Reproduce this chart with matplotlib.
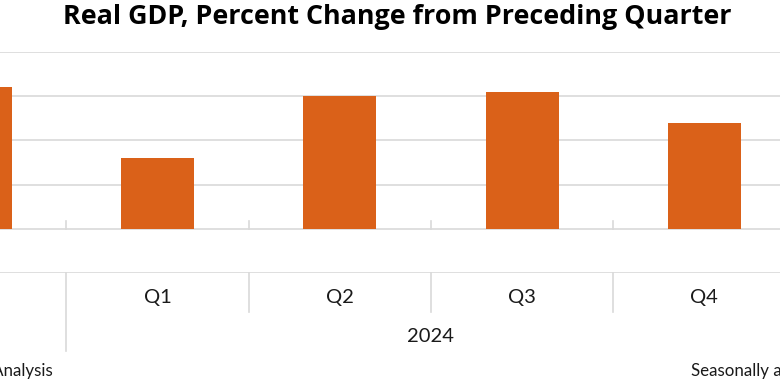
import matplotlib
matplotlib.use("Agg")
import matplotlib.pyplot as plt
import matplotlib.transforms as mtransforms

quarters = ["Q4", "Q1", "Q2", "Q3", "Q4"]
years = ["2023", "2024"]
year_of = [0, 1, 1, 1, 1]
gdp = [3.2, 1.6, 3.0, 3.1, 2.4]

W, H = 780, 387
fig = plt.figure(figsize=(W / 100, H / 100), dpi=100)
plt.rcParams['font.family'] = ['Lato', 'DejaVu Sans']

top_px, bot_px = 52, 273
ax = fig.add_axes([0, 1 - bot_px / H, 1, (bot_px - top_px) / H])
bar_color = "#DA6119"
grid_color = "#D9D9D9"

x = list(range(len(gdp)))
ax.bar(x, gdp, width=0.40, color=bar_color, zorder=3)
ax.set_xlim(0.136, 4.415)
ax.set_ylim(-1, 4)
ax.set_yticks([-1, 0, 1, 2, 3, 4])
ax.yaxis.grid(True, color=grid_color, linewidth=1.2, zorder=0)
ax.tick_params(left=False, labelleft=False, bottom=False, labelbottom=False)
for s in ax.spines.values():
    s.set_visible(False)

trans = mtransforms.blended_transform_factory(ax.transData, ax.transAxes)
axpx = (bot_px - top_px)
# tick marks at zero line (pointing up)
for b in [i + 0.5 for i in range(-1, len(gdp))]:
    ax.plot([b, b], [0, 8 / 44.2], color=grid_color, lw=1.2, zorder=2, clip_on=False)

# category label separators
for i in range(-1, len(gdp)):
    b = i + 0.5
    if 0 <= i < len(gdp) - 1 and year_of[i] != year_of[i + 1]:
        length = (351 - bot_px) / axpx
    else:
        length = (312 - bot_px) / axpx
    ax.plot([b, b], [0, -length], color=grid_color, lw=1.2, transform=trans, clip_on=False)

for i, q in enumerate(quarters):
    if i == 0:
        continue  # label of the cropped-off first slot lies outside the picture
    ax.text(i, -(297 - bot_px) / axpx, q, transform=trans, ha="center", va="center",
            fontsize=14.5, color="#1a1a1a")

idx = [i for i in x if year_of[i] == 1]
cx = (min(idx) - 0.5 + max(idx) + 0.5) / 2
ax.text(cx, -(336 - bot_px) / axpx, years[1], transform=trans, ha="center",
        va="center", fontsize=14.5, color="#1a1a1a")

fig.text(397 / W, 1 - 17 / H, "Real GDP, Percent Change from Preceding Quarter",
         ha="center", va="center", fontsize=19.4, fontweight="bold", color="#000000",
         family=["Open Sans", "DejaVu Sans"])
fig.text(53 / W, 1 - 371 / H, "Source: U.S. Bureau of Economic Analysis", ha="right",
         va="center", fontsize=12.2, color="#1a1a1a")
fig.text(691 / W, 1 - 371 / H, "Seasonally adjusted at annual rates", ha="left",
         va="center", fontsize=12.2, color="#1a1a1a")

fig.savefig("out.png", dpi=100)
